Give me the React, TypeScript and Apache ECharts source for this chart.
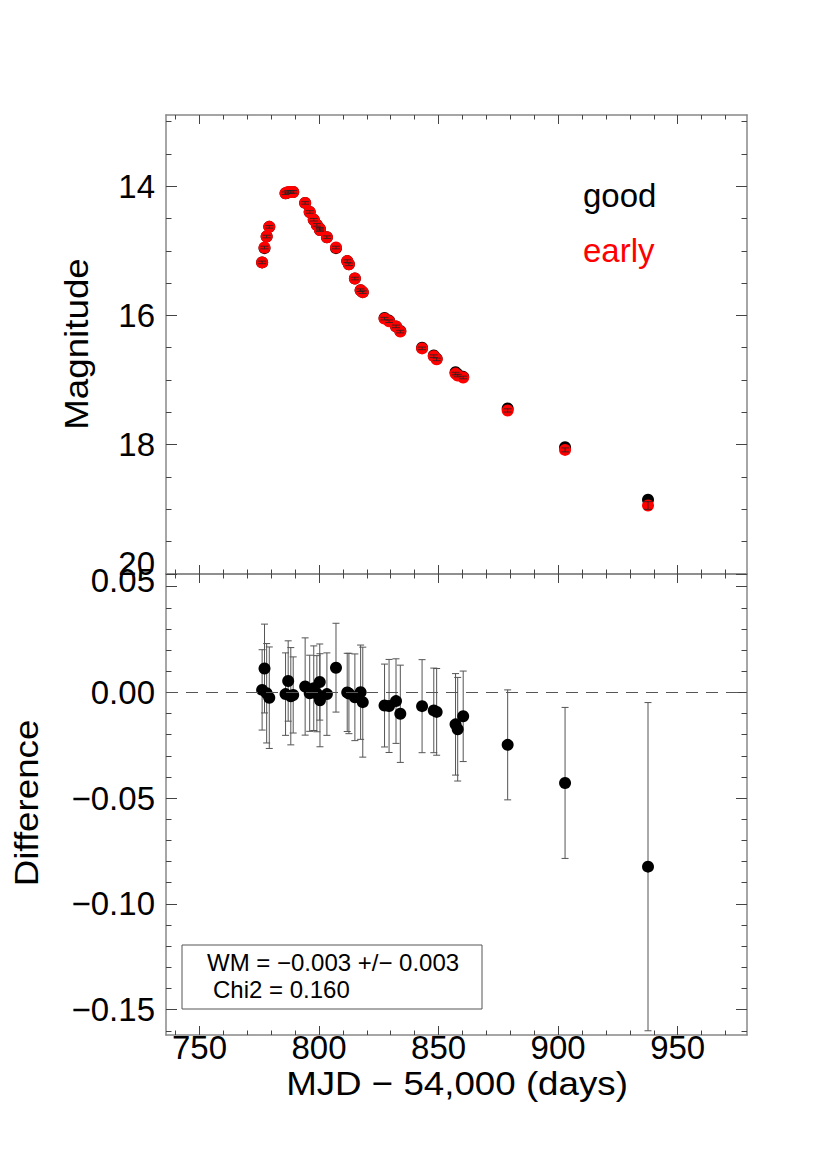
import React, { useEffect, useRef } from "react";
import * as echarts from "echarts";

// ---- data ----
const mjd = [
  776.2, 777.2, 778.1, 779.2, 786.0, 787.1, 788.2, 789.2, 794.2, 796.1, 797.8, 799.1,
  800.3, 800.4, 803.3, 807.1, 811.8, 812.5, 815.0, 817.4, 818.3, 827.4, 829.3, 832.2,
  834.0, 843.1, 848.0, 849.2, 857.1, 858.0, 860.3, 878.9, 902.9, 937.6,
];
const goodMag = [
  15.18, 14.96, 14.78, 14.63, 14.11, 14.1, 14.09, 14.09, 14.26, 14.4, 14.52, 14.6,
  14.66, 14.68, 14.79, 14.96, 15.16, 15.21, 15.43, 15.61, 15.64, 16.04, 16.08, 16.17,
  16.24, 16.5, 16.62, 16.67, 16.88, 16.91, 16.95, 17.44, 18.04, 18.85,
];
const earlyMag = [
  15.18, 14.95, 14.78, 14.63, 14.11, 14.09, 14.09, 14.09, 14.26, 14.4, 14.52, 14.6,
  14.66, 14.68, 14.79, 14.95, 15.16, 15.21, 15.43, 15.61, 15.64, 16.05, 16.09, 16.17,
  16.25, 16.51, 16.63, 16.68, 16.9, 16.93, 16.96, 17.47, 18.08, 18.94,
];
const magErr = [
  0.02, 0.02, 0.02, 0.02, 0.02, 0.02, 0.02, 0.02, 0.02, 0.02, 0.02, 0.02,
  0.02, 0.02, 0.02, 0.02, 0.02, 0.02, 0.02, 0.02, 0.02, 0.02, 0.02, 0.02,
  0.02, 0.02, 0.02, 0.02, 0.02, 0.02, 0.02, 0.025, 0.03, 0.06,
];
const diff = [
  0.0012, 0.0113, -0.0004, -0.0025, -0.0008, 0.0054, -0.0018, -0.0012, 0.0028, -0.0004, 0.002, -0.0006,
  0.0049, -0.0037, -0.0008, 0.0117, 0.0, -0.0005, -0.0023, 0.0001, -0.0046, -0.0062, -0.0064, -0.0041,
  -0.0101, -0.0065, -0.0085, -0.0092, -0.0151, -0.0174, -0.0113, -0.0248, -0.0428, -0.0824,
];
const diffErr = [
  0.019, 0.021, 0.0235, 0.024, 0.0195, 0.019, 0.023, 0.018, 0.023, 0.018, 0.02, 0.018,
  0.018, 0.022, 0.0195, 0.021, 0.0185, 0.019, 0.0205, 0.0223, 0.026, 0.0196, 0.022, 0.02,
  0.023, 0.022, 0.02, 0.0205, 0.024, 0.0245, 0.0214, 0.026, 0.0357, 0.0776,
];

// ---- ticks ----
const xMajor = [750, 800, 850, 900, 950];
const xMinor = [740, 760, 770, 780, 790, 810, 820, 830, 840, 860, 870, 880, 890, 910, 920, 930, 940, 960, 970];
const magMajor = [14, 16, 18, 20];
const magMinor = [13, 13.5, 14.5, 15, 15.5, 16.5, 17, 17.5, 18.5, 19, 19.5];
const diffMajor = [0.05, 0, -0.05, -0.1, -0.15];
const diffMinor = [
  0.04, 0.03, 0.02, 0.01, -0.01, -0.02, -0.03, -0.04, -0.06, -0.07, -0.08, -0.09,
  -0.11, -0.12, -0.13, -0.14, -0.16,
];

const xRange = [736, 979];
const magRange = [12.9, 20];
const diffRange = [-0.162, 0.056];

const FONT = "Liberation Sans, Helvetica, Arial, sans-serif";
const AXIS_COLOR = "#888";
const TICK_COLOR = "#444";

function tickAxis(opts: any) {
  const { values, grid, position, len, line, labels, extra } = opts;
  return {
    type: "value",
    gridIndex: grid,
    position,
    splitLine: { show: false },
    axisLine: { show: !!line, onZero: false, lineStyle: { color: AXIS_COLOR, width: 1.5 } },
    axisTick: {
      show: true,
      inside: true,
      length: len,
      customValues: values,
      lineStyle: { color: TICK_COLOR, width: 1 },
    },
    axisLabel: labels
      ? {
          show: true,
          customValues: values,
          fontSize: 33,
          fontFamily: FONT,
          color: "#000",
          ...labels,
        }
      : { show: false },
    ...extra,
  };
}

function errRender(cap: number, color: string, width: number) {
  return (params: any, api: any) => {
    const x = api.value(0);
    const y = api.value(1);
    const e = api.value(2);
    const p1 = api.coord([x, y + e]);
    const p2 = api.coord([x, y - e]);
    const cx = p1[0];
    const style = { stroke: color, lineWidth: width, fill: null };
    return {
      type: "group",
      children: [
        { type: "line", shape: { x1: cx, y1: p1[1], x2: cx, y2: p2[1] }, style },
        { type: "line", shape: { x1: cx - cap, y1: p1[1], x2: cx + cap, y2: p1[1] }, style },
        { type: "line", shape: { x1: cx - cap, y1: p2[1], x2: cx + cap, y2: p2[1] }, style },
      ],
    };
  };
}

const fmtDiff = (v: number) => {
  const s = (v < 0 ? "\u2212" : "") + Math.abs(v).toFixed(2);
  return v > 0.04 ? "{up|" + s + "}" : s;
};
const fmtMag = (v: number) => (v >= 20 ? "{upMore|" + v + "}" : String(v));
const richUp = {
  up: { fontSize: 33, fontFamily: FONT, color: "#000", padding: [0, 0, 12, 0] },
  upMore: { fontSize: 33, fontFamily: FONT, color: "#000", padding: [0, 0, 22, 0] },
};

export default function App() {
  const ref = useRef<HTMLDivElement>(null);
  useEffect(() => {
    document.body.style.margin = "0";
    if (!ref.current) return;
    const chart = echarts.init(ref.current, null, { renderer: "svg" });

    const xExtra = { min: xRange[0], max: xRange[1] };
    const magExtra = { min: magRange[0], max: magRange[1], inverse: true };
    const diffExtra = { min: diffRange[0], max: diffRange[1] };

    const xAxis = [
      tickAxis({ grid: 0, position: "bottom", values: xMajor, len: 9, line: true, extra: xExtra }),
      tickAxis({
        grid: 1, position: "bottom", values: xMajor, len: 9, line: true,
        labels: { margin: -4 }, extra: xExtra,
      }),
      tickAxis({ grid: 0, position: "top", values: xMajor, len: 9, line: true, extra: xExtra }),
      tickAxis({ grid: 1, position: "top", values: xMajor, len: 9, line: true, extra: xExtra }),
      tickAxis({ grid: 0, position: "bottom", values: xMinor, len: 4.5, extra: xExtra }),
      tickAxis({ grid: 1, position: "bottom", values: xMinor, len: 4.5, extra: xExtra }),
      tickAxis({ grid: 0, position: "top", values: xMinor, len: 4.5, extra: xExtra }),
      tickAxis({ grid: 1, position: "top", values: xMinor, len: 4.5, extra: xExtra }),
    ];

    const yAxis = [
      tickAxis({
        grid: 0, position: "left", values: magMajor, len: 11, line: true,
        labels: { margin: 11, formatter: fmtMag, rich: richUp }, extra: magExtra,
      }),
      tickAxis({
        grid: 1, position: "left", values: diffMajor, len: 11, line: true,
        labels: { margin: 11, formatter: fmtDiff, rich: richUp }, extra: diffExtra,
      }),
      tickAxis({ grid: 0, position: "right", values: magMajor, len: 11, line: true, extra: magExtra }),
      tickAxis({ grid: 1, position: "right", values: diffMajor, len: 11, line: true, extra: diffExtra }),
      tickAxis({ grid: 0, position: "left", values: magMinor, len: 5.5, extra: magExtra }),
      tickAxis({ grid: 1, position: "left", values: diffMinor, len: 5.5, extra: diffExtra }),
      tickAxis({ grid: 0, position: "right", values: magMinor, len: 5.5, extra: magExtra }),
      tickAxis({ grid: 1, position: "right", values: diffMinor, len: 5.5, extra: diffExtra }),
    ];

    const goodData = mjd.map((m, i) => [m, goodMag[i]]);
    const earlyData = mjd.map((m, i) => [m, earlyMag[i]]);
    const earlyErrData = mjd.map((m, i) => [m, earlyMag[i], magErr[i]]);
    const diffData = mjd.map((m, i) => [m, diff[i]]);
    const diffErrData = mjd.map((m, i) => [m, diff[i], diffErr[i]]);

    const titleStyle = { fill: "#000", fontSize: 34, fontFamily: FONT, align: "center", verticalAlign: "middle" };

    chart.setOption({
      animation: false,
      backgroundColor: "#fff",
      grid: [
        { left: 166, top: 115, width: 581, height: 459 },
        { left: 166, top: 574, width: 581, height: 461 },
      ],
      xAxis,
      yAxis,
      series: [
        {
          type: "scatter",
          name: "good",
          xAxisIndex: 0,
          yAxisIndex: 0,
          data: goodData,
          symbol: "circle",
          symbolSize: 12,
          itemStyle: { color: "#000", opacity: 1 },
          z: 2,
        },
        {
          type: "scatter",
          name: "early",
          xAxisIndex: 0,
          yAxisIndex: 0,
          data: earlyData,
          symbol: "circle",
          symbolSize: 12,
          itemStyle: { color: "#ff0000", opacity: 1 },
          z: 3,
        },
        {
          type: "custom",
          name: "earlyErr",
          xAxisIndex: 0,
          yAxisIndex: 0,
          data: earlyErrData,
          renderItem: errRender(4, "#222", 0.8),
          z: 4,
        },
        {
          type: "custom",
          name: "diffErr",
          xAxisIndex: 1,
          yAxisIndex: 1,
          data: diffErrData,
          renderItem: errRender(3.5, "#555", 1),
          z: 2,
          markLine: {
            silent: true,
            symbol: "none",
            label: { show: false },
            lineStyle: { color: "#555", width: 1, type: [12, 8] },
            data: [{ yAxis: 0 }],
          },
        },
        {
          type: "scatter",
          name: "difference",
          xAxisIndex: 1,
          yAxisIndex: 1,
          data: diffData,
          symbol: "circle",
          symbolSize: 12,
          itemStyle: { color: "#000", opacity: 1 },
          z: 3,
        },
      ],
      graphic: [
        {
          type: "text",
          x: 583,
          y: 195,
          style: { text: "good", fill: "#000", fontSize: 33, fontFamily: FONT, align: "left", verticalAlign: "middle" },
        },
        {
          type: "text",
          x: 583,
          y: 250,
          style: { text: "early", fill: "#ff0000", fontSize: 33, fontFamily: FONT, align: "left", verticalAlign: "middle" },
        },
        {
          type: "text",
          x: 76,
          y: 344,
          rotation: Math.PI / 2,
          scaleX: 1.08,
          style: { text: "Magnitude", ...titleStyle },
        },
        {
          type: "text",
          x: 26,
          y: 803,
          rotation: Math.PI / 2,
          scaleX: 1.08,
          style: { text: "Difference", ...titleStyle },
        },
        {
          type: "text",
          x: 457,
          y: 1083,
          scaleX: 1.08,
          style: { text: "MJD \u2212 54,000 (days)", ...titleStyle },
        },
        {
          type: "rect",
          shape: { x: 182, y: 945, width: 300, height: 64 },
          style: { fill: "#fff", stroke: "#555", lineWidth: 1 },
          z: 10,
        },
        {
          type: "text",
          x: 207,
          y: 962,
          z: 11,
          style: { text: "WM = \u22120.003 +/\u2212 0.003", fill: "#000", fontSize: 24, fontFamily: FONT, align: "left", verticalAlign: "middle" },
        },
        {
          type: "text",
          x: 213,
          y: 989,
          z: 11,
          style: { text: "Chi2 = 0.160", fill: "#000", fontSize: 24, fontFamily: FONT, align: "left", verticalAlign: "middle" },
        },
      ],
    });
    return () => chart.dispose();
  }, []);
  return <div ref={ref} style={{ width: 830, height: 1150 }} />;
}
